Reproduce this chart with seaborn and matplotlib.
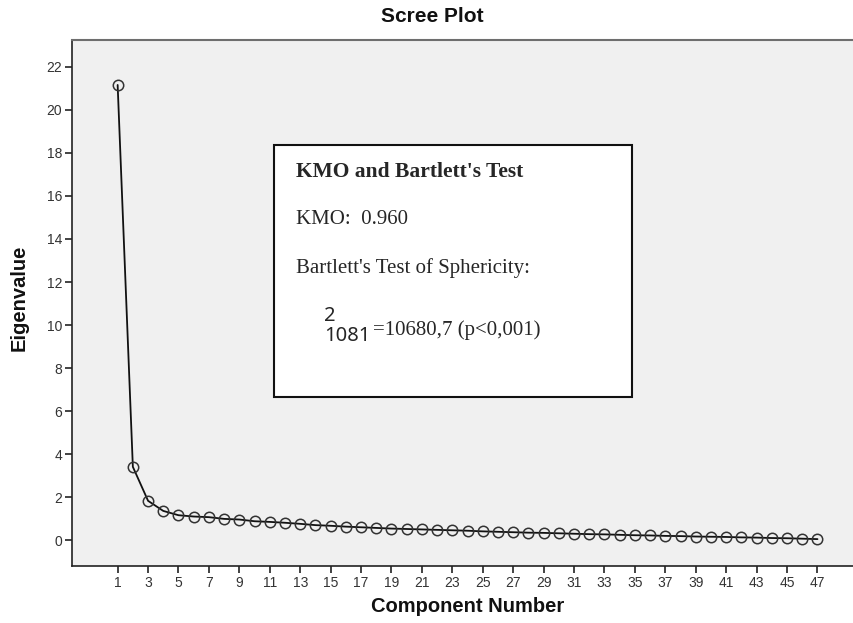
import numpy as np
import pandas as pd
import matplotlib
matplotlib.use("Agg")
import matplotlib.pyplot as plt
import seaborn as sns
from matplotlib.patches import Rectangle

# scree plot values
components = list(range(1, 48))
eigenvalues = [
    21.16, 3.41, 1.83, 1.36, 1.16, 1.10, 1.07, 0.99, 0.96, 0.88,
    0.85, 0.81, 0.76, 0.70, 0.67, 0.63, 0.60, 0.57, 0.54, 0.52,
    0.50, 0.48, 0.46, 0.44, 0.41, 0.39, 0.37, 0.35, 0.34, 0.32,
    0.30, 0.28, 0.27, 0.25, 0.23, 0.22, 0.20, 0.19, 0.17, 0.16,
    0.15, 0.13, 0.12, 0.10, 0.09, 0.07, 0.05,
]
x_ticks = list(range(1, 48, 2))
y_ticks = list(range(0, 23, 2))

box_title = "KMO and Bartlett's Test"
box_kmo = "KMO:  0.960"
box_bartlett = "Bartlett's Test of Sphericity:"
box_df = "2\n1081"
box_chi = "=10680,7 (p<0,001)"

df = pd.DataFrame({"Component Number": components, "Eigenvalue": eigenvalues})

sns.set_theme(style="ticks")
plt.rcParams["font.family"] = ["Liberation Sans", "DejaVu Sans"]

W, H = 854, 623
fig = plt.figure(figsize=(W / 100, H / 100), dpi=100)
fig.patch.set_facecolor("white")


def fx(px):
    return px / W


def fy(py):
    return 1 - py / H


ax = fig.add_axes([fx(72), fy(566), 1 - fx(72), (566 - 40) / H])
ax.set_facecolor("#f0f0f0")

sns.lineplot(
    data=df, x="Component Number", y="Eigenvalue", ax=ax,
    color="#111111", linewidth=1.3,
    marker="o", markersize=7.5, markerfacecolor="none",
    markeredgecolor="#333333", markeredgewidth=1.1,
)

ax.set_xlim(-2.0, 49.4)
ax.set_ylim(-1.2, 23.25)
ax.set_xticks(x_ticks)
ax.set_yticks(y_ticks)
ax.tick_params(axis="both", direction="out", length=5, width=1.2,
               color="#222222", labelcolor="#333333", labelsize=10, pad=2)
ax.set_xlabel("")
ax.set_ylabel("")

for side in ["left", "bottom"]:
    ax.spines[side].set_color("#222222")
    ax.spines[side].set_linewidth(1.2)
ax.spines["top"].set_visible(True)
ax.spines["top"].set_color("#6e6e6e")
ax.spines["top"].set_linewidth(1.5)
ax.spines["right"].set_visible(False)

fig.text(fx(432), fy(16), "Scree Plot", ha="center", va="center",
         fontsize=15, fontweight="bold", color="#111111")
fig.text(fx(468), fy(607), "Component Number", ha="center", va="center",
         fontsize=14.5, fontweight="bold", color="#111111")
fig.text(fx(19), fy(298), "Eigenvalue", ha="center", va="center",
         rotation=90, fontsize=14.5, fontweight="bold", color="#111111")

# KMO / Bartlett box
fig.patches.append(Rectangle((fx(274), fy(397)), (632 - 274) / W, (397 - 145) / H,
                             transform=fig.transFigure, facecolor="white",
                             edgecolor="#111111", linewidth=1.5, zorder=5))
serif = ["Liberation Serif", "DejaVu Serif"]
fig.text(fx(296), fy(172), box_title, ha="left", va="center",
         fontsize=15.5, fontweight="bold", family=serif, zorder=6)
fig.text(fx(296), fy(220), box_kmo, ha="left", va="center",
         fontsize=15, family=serif, zorder=6)
fig.text(fx(296), fy(268), box_bartlett, ha="left", va="center",
         fontsize=15, family=serif, zorder=6)
fig.text(fx(324), fy(326), box_df, ha="left", va="center", linespacing=1.0,
         fontsize=14.5, family=["Noto Sans", "DejaVu Sans"], zorder=6)
fig.text(fx(373), fy(330), box_chi, ha="left", va="center",
         fontsize=15, family=serif, zorder=6)

fig.savefig("out.png", dpi=100)
